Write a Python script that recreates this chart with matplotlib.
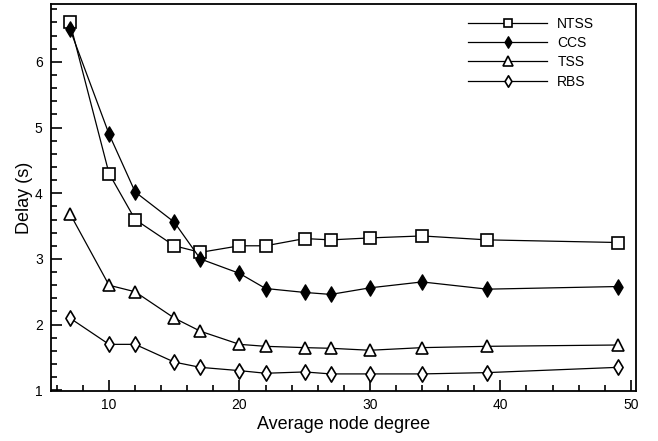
import matplotlib
matplotlib.use("Agg")
import matplotlib.pyplot as plt
from matplotlib.ticker import MultipleLocator
from matplotlib.path import Path

plt.rcParams['font.family'] = ['Liberation Sans', 'DejaVu Sans']

degree = [7, 10, 12, 15, 17, 20, 22, 25, 27, 30, 34, 39, 49]
ntss = [6.6, 4.3, 3.6, 3.2, 3.1, 3.2, 3.2, 3.31, 3.29, 3.32, 3.35, 3.29, 3.25]
ccs = [6.5, 4.9, 4.02, 3.56, 3.0, 2.78, 2.55, 2.49, 2.46, 2.56, 2.65, 2.54, 2.58]
tss = [3.69, 2.6, 2.5, 2.1, 1.9, 1.7, 1.67, 1.65, 1.64, 1.61, 1.65, 1.67, 1.69]
rbs = [2.1, 1.7, 1.7, 1.43, 1.35, 1.3, 1.26, 1.28, 1.25, 1.25, 1.25, 1.27, 1.35]

# narrow diamond marker (width ~ 0.6 of height)
diamond = Path([(0, 1), (0.6, 0), (0, -1), (-0.6, 0), (0, 1)],
               [Path.MOVETO, Path.LINETO, Path.LINETO, Path.LINETO, Path.CLOSEPOLY])

fig = plt.figure(figsize=(6.58, 4.41), dpi=100)
ax = fig.add_axes([51/658, 1 - 391/441, (636 - 51)/658, (391 - 4)/441])

lw = 0.9
ax.plot(degree, ntss, color='black', lw=lw, marker='s', ms=8, mfc='white', mec='black', mew=1.2, label='NTSS')
ax.plot(degree, ccs, color='black', lw=lw, marker=diamond, ms=11, mfc='black', mec='black', mew=1.0, label='CCS')
ax.plot(degree, tss, color='black', lw=lw, marker='^', ms=9, mfc='white', mec='black', mew=1.2, label='TSS')
ax.plot(degree, rbs, color='black', lw=lw, marker=diamond, ms=11, mfc='white', mec='black', mew=1.2, label='RBS')

ax.set_xlim(5.55, 50.4)
ax.set_ylim(0.99, 6.88)
ax.xaxis.set_major_locator(MultipleLocator(10))
ax.xaxis.set_minor_locator(MultipleLocator(2))
ax.yaxis.set_major_locator(MultipleLocator(1))
ax.yaxis.set_minor_locator(MultipleLocator(0.2))
ax.tick_params(which='both', direction='in', top=False, right=False, labelsize=10, width=1.2)
ax.tick_params(which='major', length=8)
ax.tick_params(which='minor', length=4)
ax.tick_params(axis='y', which='major', pad=6)
ax.tick_params(axis='x', which='major', pad=5)
for s in ax.spines.values():
    s.set_linewidth(1.3)

ax.set_xlabel('Average node degree', fontsize=13, labelpad=3)
ax.set_ylabel('Delay (s)', fontsize=13, labelpad=1)

leg = ax.legend(loc='upper left', frameon=False, fontsize=10, handlelength=5.7,
                handletextpad=0.72, labelspacing=0.38, borderaxespad=0.0, borderpad=0.0,
                markerscale=0.75, bbox_to_anchor=(0.713, 0.967))

fig.savefig('out.png', dpi=100)
